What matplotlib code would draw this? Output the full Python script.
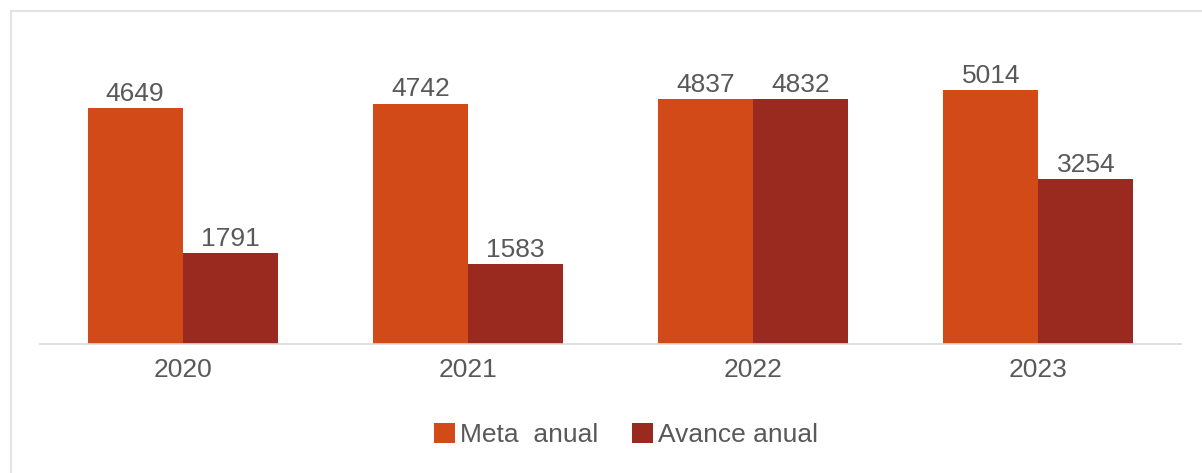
import matplotlib.pyplot as plt
import matplotlib.patches as mpatches
import numpy as np

years = ["2020", "2021", "2022", "2023"]
meta = [4649, 4742, 4837, 5014]
avance = [1791, 1583, 4832, 3254]

c_meta = "#D24A18"
c_avance = "#9A2A1F"
txt = "#595959"

plt.rcParams["font.family"] = ["Liberation Sans", "DejaVu Sans"]

W, H = 1202, 473
fig = plt.figure(figsize=(W / 100, H / 100), dpi=100)
ax = fig.add_axes([40 / W, (H - 344) / H, (1181 - 40) / W, (344 - 30) / H])

x = np.arange(len(years))
w = 1 / 3
b1 = ax.bar(x - w / 2, meta, w, color=c_meta, label="Meta  anual")
b2 = ax.bar(x + w / 2, avance, w, color=c_avance, label="Avance anual")

for bars in (b1, b2):
    for r in bars:
        ax.annotate(f"{int(r.get_height())}", (r.get_x() + r.get_width() / 2, r.get_height()),
                    xytext=(0, 1.5), textcoords="offset points", ha="center", va="bottom",
                    fontsize=19, color=txt)

ax.set_xlim(-0.5, 3.5)
ax.set_ylim(0, 6193)
ax.set_xticks(x)
ax.set_xticklabels(years, fontsize=19, color=txt)
ax.tick_params(axis="x", length=0, pad=10)
ax.set_yticks([])
for s in ["top", "right", "left"]:
    ax.spines[s].set_visible(False)
ax.spines["bottom"].set_color("#D9D9D9")
ax.spines["bottom"].set_linewidth(1.2)

fig.legend(handles=[b1, b2], loc="center", bbox_to_anchor=(626 / W, (H - 435) / H),
           ncol=2, frameon=False, fontsize=19, labelcolor=txt,
           handlelength=0.8, handleheight=0.8, handletextpad=0.2, columnspacing=1.25)

# light frame around the chart area
fig.patches.append(mpatches.Rectangle((11 / W, -0.1), 1.2, (H - 11) / H + 0.1,
                                      transform=fig.transFigure, fill=False,
                                      edgecolor="#E3E3E3", linewidth=1.5))

fig.savefig("out.png", dpi=100, facecolor="white")
